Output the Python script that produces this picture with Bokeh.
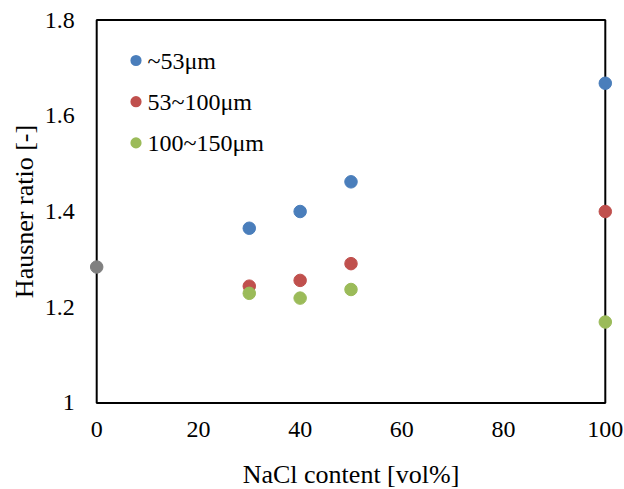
from bokeh.plotting import figure
from bokeh.models import Range1d, BoxAnnotation, Label
from bokeh.core.properties import value
from bokeh.embed import file_html
from bokeh.resources import INLINE

# Data
x_nacl = [30, 40, 50, 100]
hr_53 = [1.365, 1.400, 1.462, 1.668]
hr_53_100 = [1.244, 1.256, 1.291, 1.400]
hr_100_150 = [1.229, 1.219, 1.237, 1.169]
x_pure = [0]
hr_pure = [1.284]
series_names = ["~53\u03bcm", "53~100\u03bcm", "100~150\u03bcm"]
x_ticks = [0, 20, 40, 60, 80, 100]
x_tick_labels = ["0", "20", "40", "60", "80", "100"]
y_ticks = [1.0, 1.2, 1.4, 1.6, 1.8]
y_tick_labels = ["1", "1.2", "1.4", "1.6", "1.8"]
x_title = "NaCl content [vol%]"
y_title = "Hausner ratio [-]"
colors = ["#4A7EBB", "#C0504D", "#9BBB59"]
gray = "#808080"

FONT = "Liberation Serif"
W, H = 624, 489
# layout: pixel positions of the axis box (from top-left of the canvas)
BOX_L, BOX_R, BOX_T, BOX_B = 96.2, 604.8, 19.6, 402.4

kx = (BOX_R - BOX_L) / (x_ticks[-1] - x_ticks[0])
ky = (BOX_B - BOX_T) / (y_ticks[-1] - y_ticks[0])
x_start = x_ticks[0] - BOX_L / kx
x_end = x_start + W / kx
y_end = y_ticks[-1] + BOX_T / ky
y_start = y_end - H / ky


def px_x(px):
    return x_start + px / kx


def px_y(py):
    return y_end - py / ky


p = figure(width=W, height=H, output_backend="svg", toolbar_location=None,
           x_range=Range1d(x_start, x_end), y_range=Range1d(y_start, y_end),
           min_border=0)
p.background_fill_color = "white"
p.border_fill_color = "white"
p.outline_line_color = None
p.xgrid.visible = False
p.ygrid.visible = False
p.xaxis.visible = False
p.yaxis.visible = False

frame = BoxAnnotation(left=x_ticks[0], right=x_ticks[-1], bottom=y_ticks[0], top=y_ticks[-1],
                      fill_alpha=0, line_color="black", line_alpha=1, line_width=2,
                      level="underlay")
p.add_layout(frame)

# tick labels (text glyphs, anchored on the tick values)
p.text(x=x_ticks, y=[px_y(BOX_B + 27)] * len(x_ticks), text=x_tick_labels,
       text_align="center", text_baseline="middle", text_font=value(FONT),
       text_font_size="24px", text_color="black")
p.text(x=[px_x(BOX_L - 22)] * len(y_ticks), y=y_ticks, text=y_tick_labels,
       text_align="right", text_baseline="middle", text_font=value(FONT),
       text_font_size="24px", text_color="black")

# axis titles
x_mid = (x_ticks[0] + x_ticks[-1]) / 2
y_mid = (y_ticks[0] + y_ticks[-1]) / 2
p.add_layout(Label(x=x_mid, y=y_ticks[0], text=x_title, text_align="center", text_baseline="middle",
                   y_offset=-72, text_font=FONT, text_font_size="26px", text_color="black"))
p.add_layout(Label(x=x_ticks[0], y=y_mid, text=y_title, text_align="center", text_baseline="middle",
                   angle=1.5708, x_offset=-72, text_font=FONT, text_font_size="26px",
                   text_color="black"))

# data points
p.scatter(x_pure, hr_pure, size=12.5, color=gray)
for ys, c in zip([hr_53, hr_53_100, hr_100_150], colors):
    p.scatter(x_nacl, ys, size=12.5, color=c)

# legend: round swatches + labels
LEG_X, LEG_Y0, LEG_DY, LEG_R = 135.5, 60.0, 41.2, 5.6
leg_ys = [LEG_Y0 + LEG_DY * i for i in range(len(series_names))]
for cy, c in zip(leg_ys, colors):
    p.add_layout(BoxAnnotation(left=px_x(LEG_X - LEG_R), right=px_x(LEG_X + LEG_R),
                               top=px_y(cy - LEG_R), bottom=px_y(cy + LEG_R),
                               fill_color=c, fill_alpha=1, line_color=None,
                               border_radius=6, level="overlay"))
p.text(x=[px_x(147)] * len(series_names), y=[px_y(cy) for cy in leg_ys], text=series_names,
       text_align="left", text_baseline="middle", text_font=value(FONT),
       text_font_size="24px", text_color="black")

open("out.html", "w").write(file_html(p, INLINE))
